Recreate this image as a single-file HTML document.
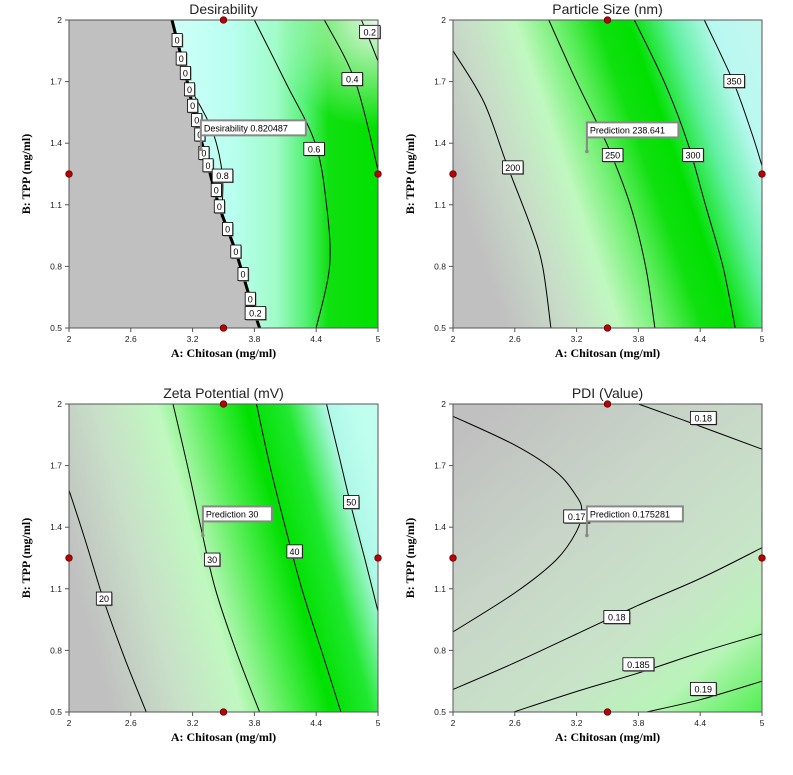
<!DOCTYPE html>
<html><head><meta charset="utf-8">
<style>
html,body{margin:0;padding:0;background:#fff;}
svg{display:block;}
</style></head>
<body>
<svg id="chart" width="793" height="775" viewBox="0 0 793 775" xmlns="http://www.w3.org/2000/svg">
<defs>
 <linearGradient id="g1" x1="0" y1="0" x2="1" y2="0">
  <stop offset="0.33" stop-color="#d0fff8"/><stop offset="0.53" stop-color="#b8fff0"/>
  <stop offset="0.67" stop-color="#a0fcc8"/><stop offset="0.77" stop-color="#50f070"/>
  <stop offset="0.84" stop-color="#10e010"/><stop offset="1" stop-color="#00e000"/>
 </linearGradient>
 <radialGradient id="g1b" cx="1" cy="0" r="0.35">
  <stop offset="0" stop-color="#e8f8e8" stop-opacity="1"/><stop offset="1" stop-color="#e8f8e8" stop-opacity="0"/>
 </radialGradient>
 <linearGradient id="g2" gradientUnits="userSpaceOnUse" x1="453" y1="174" x2="762" y2="68">
  <stop offset="0" stop-color="#c0c0c0"/><stop offset="0.18" stop-color="#c8dcc8"/>
  <stop offset="0.33" stop-color="#c0f8c0"/><stop offset="0.45" stop-color="#70f070"/>
  <stop offset="0.57" stop-color="#10e010"/><stop offset="0.66" stop-color="#00e000"/>
  <stop offset="0.78" stop-color="#60f0a0"/><stop offset="0.9" stop-color="#b8f8f0"/>
  <stop offset="1" stop-color="#c0f8f0"/>
 </linearGradient>
 <linearGradient id="g3" gradientUnits="userSpaceOnUse" x1="69" y1="558" x2="378" y2="472">
  <stop offset="0" stop-color="#c0c0c0"/><stop offset="0.21" stop-color="#c8e0c8"/>
  <stop offset="0.39" stop-color="#c0f8c0"/><stop offset="0.54" stop-color="#50ee50"/>
  <stop offset="0.66" stop-color="#00e000"/><stop offset="0.78" stop-color="#20e830"/>
  <stop offset="0.9" stop-color="#b0f8e8"/><stop offset="1" stop-color="#c0fff0"/>
 </linearGradient>
 <linearGradient id="g4" gradientUnits="userSpaceOnUse" x1="500" y1="404" x2="762" y2="712">
  <stop offset="0" stop-color="#c0c0c0"/><stop offset="0.35" stop-color="#c8d6c8"/>
  <stop offset="0.65" stop-color="#c8e4c8"/><stop offset="0.82" stop-color="#b8f4b8"/>
  <stop offset="1" stop-color="#50f050"/>
 </linearGradient>
</defs>
</svg>
<script>
// ---------- data ----------
const xTicks = [2, 2.6, 3.2, 3.8, 4.4, 5];
const yTicks = [0.5, 0.8, 1.1, 1.4, 1.7, 2];
const xTickLabels = ["2", "2.6", "3.2", "3.8", "4.4", "5"];
const yTickLabels = ["0.5", "0.8", "1.1", "1.4", "1.7", "2"];
const designPoints = [[3.5, 2], [3.5, 0.5], [2, 1.25], [5, 1.25]];
const panelTitles = ["Desirability", "Particle Size (nm)", "Zeta Potential (mV)", "PDI (Value)"];

// Desirability contours [A,B]
const desBoundary = [[3.0,2],[3.05,1.9],[3.13,1.74],[3.2,1.58],[3.27,1.44],[3.35,1.29],[3.46,1.09],[3.62,0.87],[3.76,0.64],[3.85,0.5]];
const des08 = [[3.22,1.63],[3.40,1.45],[3.49,1.24],[3.48,1.04]];
const des06 = [[3.8,2],[4.1,1.7],[4.39,1.4],[4.5,1.1],[4.53,0.8],[4.40,0.5]];
const des04 = [[4.48,2],[4.78,1.7],[5,1.27]];
const des02 = [[4.84,2],[5,1.8]];
const desLabelPos = [[3.05,1.90],[3.09,1.81],[3.13,1.74],[3.17,1.66],[3.20,1.58],[3.24,1.51],[3.27,1.44],[3.31,1.35],[3.35,1.29],[3.43,1.17],[3.46,1.09],[3.54,0.98],[3.62,0.87],[3.69,0.76],[3.76,0.64],[3.49,1.24],[3.81,0.57],[4.38,1.37],[4.75,1.71],[4.92,1.94]];
const desLabelText = ["0","0","0","0","0","0","0","0","0","0","0","0","0","0","0","0.8","0.2","0.6","0.4","0.2"];

// Particle size
const ps200 = [[2,1.85],[2.3,1.6],[2.52,1.3],[2.75,1.0],[2.87,0.8],[2.95,0.5]];
const ps250 = [[2.93,2],[3.2,1.7],[3.49,1.4],[3.72,1.1],[3.87,0.8],[3.96,0.5]];
const ps300 = [[3.76,2],[4.05,1.7],[4.28,1.4],[4.45,1.1],[4.62,0.8],[4.74,0.5]];
const ps350 = [[4.44,2],[4.72,1.7],[4.9,1.45],[5,1.29]];
const psLabelPos = [[2.58,1.28],[3.55,1.34],[4.33,1.34],[4.73,1.70]];
const psLabelText = ["200","250","300","350"];

// Zeta
const zp20 = [[2,1.58],[2.15,1.35],[2.34,1.04],[2.55,0.75],[2.75,0.5]];
const zp30 = [[3.01,2],[3.15,1.7],[3.28,1.4],[3.42,1.1],[3.62,0.8],[3.85,0.5]];
const zp40 = [[3.82,2],[3.95,1.7],[4.1,1.4],[4.26,1.1],[4.45,0.8],[4.64,0.5]];
const zp50 = [[4.5,2],[4.62,1.75],[4.74,1.5],[4.87,1.25],[5,0.99]];
const zpLabelPos = [[2.34,1.05],[3.39,1.24],[4.19,1.28],[4.74,1.52]];
const zpLabelText = ["20","30","40","50"];

// PDI
const pdi175 = [[2,1.94],[2.6,1.8],[3.0,1.67],[3.2,1.55],[3.25,1.48],[3.2,1.38],[3.0,1.24],[2.6,1.08],[2,0.89]];
const pdi18a = [[3.8,2],[4.3,1.91],[5,1.78]];
const pdi18b = [[2,0.61],[2.6,0.74],[3.2,0.88],[3.8,1.02],[4.4,1.15],[5,1.30]];
const pdi185 = [[2.59,0.5],[3.2,0.6],[3.8,0.69],[4.4,0.79],[5,0.88]];
const pdi19 = [[3.88,0.5],[4.4,0.56],[5,0.65]];
const pdiLabelPos = [[3.20,1.45],[4.43,1.93],[3.59,0.96],[3.80,0.73],[4.43,0.61]];
const pdiLabelText = ["0.17","0.18","0.18","0.185","0.19"];

// predictions [A,B]
const predPoints = [[3.28,1.37],[3.3,1.36],[3.3,1.36],[3.3,1.36]];
const predText = ["Desirability  0.820487","Prediction  238.641","Prediction  30","Prediction  0.175281"];

// ---------- drawing ----------
const NS = "http://www.w3.org/2000/svg";
const svg = document.getElementById("chart");
const W = 309, H = 308;
const origins = [[69,20],[453,20],[69,404],[453,404]];
function mk(tag, attrs, parent){const e=document.createElementNS(NS,tag);for(const k in attrs)e.setAttribute(k,attrs[k]);(parent||svg).appendChild(e);return e;}
function sx(o,a){return o[0]+(a-2)/3*W;}
function sy(o,b){return o[1]+(2-b)/1.5*H;}
function pathD(o,pts){
  const p=pts.map(q=>[sx(o,q[0]),sy(o,q[1])]);
  let d="M"+p[0][0].toFixed(1)+","+p[0][1].toFixed(1);
  for(let i=0;i<p.length-1;i++){
    const p0=p[i-1]||p[i],p1=p[i],p2=p[i+1],p3=p[i+2]||p[i+1];
    const c1=[p1[0]+(p2[0]-p0[0])/6,p1[1]+(p2[1]-p0[1])/6];
    const c2=[p2[0]-(p3[0]-p1[0])/6,p2[1]-(p3[1]-p1[1])/6];
    d+=" C"+c1[0].toFixed(1)+","+c1[1].toFixed(1)+" "+c2[0].toFixed(1)+","+c2[1].toFixed(1)+" "+p2[0].toFixed(1)+","+p2[1].toFixed(1);
  }
  return d;
}
function contour(g,o,pts,name,w){
  const e=mk("path",{d:pathD(o,pts),fill:"none",stroke:"#000","stroke-width":w||1},g);
  
  
}
function labels(g,o,pos,txt,prefix){
  pos.forEach((q,i)=>{
    const x=sx(o,q[0]),y=sy(o,q[1]);
    const w=txt[i].length*5.2+5;
    const lg=mk("g",{},g);
    
    
    mk("rect",{x:x-w/2+1,y:y-6,width:w,height:13,fill:"#777"},lg);
    mk("rect",{x:x-w/2,y:y-7,width:w,height:13,fill:"#fff",stroke:"#000","stroke-width":0.8},lg);
    const t=mk("text",{x:x,y:y+3,"text-anchor":"middle","font-size":9,"font-family":"Liberation Sans, sans-serif"},lg);
    t.textContent=txt[i];
  });
}
function pred(g,o,q,txt){
  const x=sx(o,q[0]),y=sy(o,q[1]);
  const w=txt.length*4.5+6;
  const pg=mk("g",{},g);
  
  
  mk("line",{x1:x,y1:y,x2:x,y2:y-14,stroke:"#888","stroke-width":2},pg);
  mk("circle",{cx:x,cy:y,r:1.8,fill:"#888"},pg);
  mk("rect",{x:x,y:y-29,width:w,height:15,fill:"#fff",stroke:"#888","stroke-width":2},pg);
  const t=mk("text",{x:x+3,y:y-18,"font-size":9,"font-family":"Liberation Sans, sans-serif"},pg);
  t.textContent=txt;
}
function axes(g,o,i){
  const bg=mk("g",{},g);
  
  
  xTicks.forEach((v,k)=>{
    const x=sx(o,v);
    mk("line",{x1:x,y1:o[1]+H,x2:x,y2:o[1]+H+4,stroke:"#555"},bg);
    const t=mk("text",{x:x,y:o[1]+H+14,"text-anchor":"middle","font-size":8.5,"font-family":"Liberation Sans, sans-serif",fill:"#222"},bg);
    t.textContent=xTickLabels[k];
    
    
  });
  yTicks.forEach((v,k)=>{
    const y=sy(o,v);
    mk("line",{x1:o[0]-4,y1:y,x2:o[0],y2:y,stroke:"#555"},bg);
    const t=mk("text",{x:o[0]-7,y:y+3,"text-anchor":"end","font-size":8.5,"font-family":"Liberation Sans, sans-serif",fill:"#222"},bg);
    t.textContent=yTickLabels[k];
    
    
  });
  mk("rect",{x:o[0],y:o[1],width:W,height:H,fill:"none",stroke:"#555","stroke-width":1},bg);
  const xt=mk("text",{x:o[0]+W/2,y:o[1]+H+29,"text-anchor":"middle","font-size":12,"font-weight":"bold","font-family":"Liberation Serif, serif"},bg);
  xt.textContent="A: Chitosan (mg/ml)";
  
  
  const yx=o[0]-39, yy=o[1]+H/2;
  const yt=mk("text",{x:yx,y:yy,"text-anchor":"middle","font-size":12,"font-weight":"bold","font-family":"Liberation Serif, serif",transform:"rotate(-90 "+yx+" "+yy+")"},bg);
  yt.textContent="B: TPP (mg/ml)";
  
  
  const tt=mk("text",{x:o[0]+W/2,y:o[1]-6,"text-anchor":"middle","font-size":14,"font-family":"Liberation Sans, sans-serif",fill:"#222"},bg);
  tt.textContent=panelTitles[i];
  
  
}
function dots(g,o){
  designPoints.forEach(q=>{
    const c=mk("circle",{cx:sx(o,q[0]),cy:sy(o,q[1]),r:3.3,fill:"#c00000",stroke:"#400","stroke-width":0.7},g);
    
    
  });
}
const names=["desirability-panel","particle-size-panel","zeta-potential-panel","pdi-panel"];
origins.forEach((o,i)=>{
  const g=mk("g",{});
  
  
  const fills=["url(#g1)","url(#g2)","url(#g3)","url(#g4)"];
  mk("rect",{x:o[0],y:o[1],width:W,height:H,fill:fills[i]},g);
  if(i===0){
    mk("rect",{x:o[0],y:o[1],width:W,height:H,fill:"url(#g1b)"},g);
    const gray=mk("path",{d:pathD(o,desBoundary)+" L"+o[0]+","+(o[1]+H)+" L"+o[0]+","+o[1]+" Z",fill:"#c0c0c0"},g);
    
    
    contour(g,o,desBoundary,"contour-0",3);
    contour(g,o,des08,"contour-0.8");
    contour(g,o,des06,"contour-0.6");
    contour(g,o,des04,"contour-0.4");
    contour(g,o,des02,"contour-0.2");
    labels(g,o,desLabelPos,desLabelText,"desirability");
  } else if(i===1){
    [ps200,ps250,ps300,ps350].forEach((c,k)=>contour(g,o,c,"contour-"+psLabelText[k]));
    labels(g,o,psLabelPos,psLabelText,"particle-size");
  } else if(i===2){
    [zp20,zp30,zp40,zp50].forEach((c,k)=>contour(g,o,c,"contour-"+zpLabelText[k]));
    labels(g,o,zpLabelPos,zpLabelText,"zeta");
  } else {
    contour(g,o,pdi175,"contour-0.175");
    contour(g,o,pdi18a,"contour-0.18-top");
    contour(g,o,pdi18b,"contour-0.18-bottom");
    contour(g,o,pdi185,"contour-0.185");
    contour(g,o,pdi19,"contour-0.19");
    labels(g,o,pdiLabelPos,pdiLabelText,"pdi");
  }
  axes(g,o,i);
  pred(g,o,predPoints[i],predText[i]);
  dots(g,o);
});
</script>
</body></html>
